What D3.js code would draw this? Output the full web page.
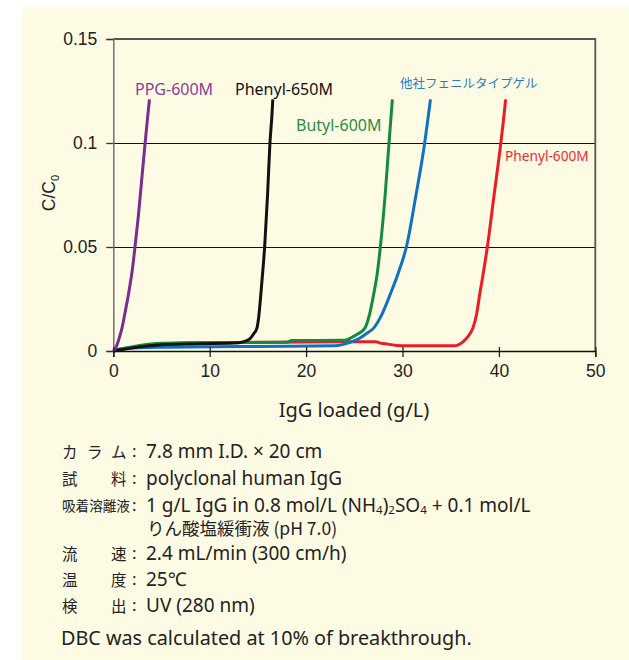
<!DOCTYPE html>
<html><head><meta charset="utf-8">
<script src="https://cdn.jsdelivr.net/npm/d3@7"></script>
<style>
html,body{margin:0;padding:0;background:#fff;}
svg{display:block;}
text{font-family:"Noto Sans","Noto Sans CJK JP",sans-serif;}
</style></head>
<body>
<svg id="c" width="629" height="660"></svg>
<script>
// ---- data ----
const xTicks = [0, 10, 20, 30, 40, 50];
const yTicks = [0, 0.05, 0.1, 0.15];
const yTickLabels = ["0", "0.05", "0.1", "0.15"];
const seriesNames = ["Phenyl-600M", "Butyl-600M", "他社フェニルタイプゲル", "Phenyl-650M", "PPG-600M"];
const seriesColors = ["#ec1c24", "#138a3e", "#0f71c4", "#111111", "#7b2c8f"];
const labelColors = ["#ec2a33", "#2a8c48", "#2a7bc6", "#111111", "#8a3c9c"];

const red_x  = [0, 2, 6, 8, 17, 24, 27.2, 27.7, 28.5, 29.4, 30, 35.3, 35.8, 36.3, 36.8, 37.3, 37.7, 38.0, 38.4, 38.8, 39.5, 40.2, 40.5, 40.7];
const red_y  = [0, 0.0015, 0.0035, 0.004, 0.0042, 0.0045, 0.0045, 0.0038, 0.0033, 0.0027, 0.0025, 0.0025, 0.003, 0.0045, 0.007, 0.011, 0.018, 0.027, 0.038, 0.05, 0.075, 0.1, 0.112, 0.121];
const green_x = [0, 2, 5, 10, 18, 18.5, 24, 24.5, 25.3, 26.1, 26.6, 27.0, 27.4, 27.7, 28.2, 28.6, 28.8, 28.95];
const green_y = [0, 0.002, 0.0037, 0.004, 0.0042, 0.005, 0.0052, 0.006, 0.008, 0.011, 0.018, 0.027, 0.038, 0.05, 0.075, 0.1, 0.112, 0.121];
const blue_x = [0, 1, 5, 15, 23, 24.5, 25.5, 26.3, 27.0, 27.9, 28.7, 29.6, 30.4, 31.4, 32.3, 32.65, 32.9];
const blue_y = [0, 0.0012, 0.0018, 0.0022, 0.0025, 0.004, 0.006, 0.0085, 0.011, 0.018, 0.027, 0.038, 0.05, 0.075, 0.1, 0.112, 0.121];
const black_x = [0, 2, 5, 9, 13.0, 13.7, 14.2, 14.6, 14.9, 15.1, 15.3, 15.5, 15.7, 16.0, 16.25, 16.45, 16.55];
const black_y = [0, 0.0015, 0.003, 0.0035, 0.004, 0.0047, 0.006, 0.0085, 0.011, 0.017, 0.027, 0.038, 0.05, 0.075, 0.1, 0.113, 0.121];
const purple_x = [0, 0.3, 0.6, 0.9, 1.2, 1.6, 2.0, 2.25, 2.6, 3.0, 3.3, 3.55, 3.75];
const purple_y = [0, 0.002, 0.006, 0.011, 0.018, 0.028, 0.04, 0.05, 0.065, 0.085, 0.1, 0.112, 0.121];

const seriesX = [red_x, green_x, blue_x, black_x, purple_x];
const seriesY = [red_y, green_y, blue_y, black_y, purple_y];

const xTitle = "IgG loaded (g/L)";
const notes = [
  {label: ["カ", "ラ", "ム"], value: "7.8 mm I.D. × 20 cm"},
  {label: ["試", "料"], value: "polyclonal human IgG"},
  {label: ["吸着溶離液"], value: null},
  {label: ["流", "速"], value: "2.4 mL/min (300 cm/h)"},
  {label: ["温", "度"], value: "25℃"},
  {label: ["検", "出"], value: "UV (280 nm)"}
];
const footnote = "DBC was calculated at 10% of breakthrough.";

// ---- chart ----
const svg = d3.select("#c");
svg.append("rect").attr("x", 22).attr("y", 7).attr("width", 607).attr("height", 653).attr("fill", "#fefbe4");

const L = 113.3, R = 595.3, T = 39, B = 351;
const x = d3.scaleLinear().domain([0, 50]).range([L, R]);
const y = d3.scaleLinear().domain([0, 0.15]).range([B, T]);

// gridlines
const grid = svg.append("g").attr("transform", `translate(${L},0)`)
  .call(d3.axisLeft(y).tickValues([0.05, 0.1]).tickSize(-(R - L)).tickFormat(""));
grid.select(".domain").remove();
grid.selectAll("line").attr("stroke", "#111").attr("stroke-width", 1.2);

// frame top & right
svg.append("path").attr("d", `M${L},${T}H${R}V${B}`).attr("fill", "none").attr("stroke", "#555").attr("stroke-width", 1.8);

// y axis
const ya = svg.append("g").attr("transform", `translate(${L},0)`)
  .call(d3.axisLeft(y).tickValues(yTicks).tickSize(7).tickPadding(9).tickFormat((d, i) => yTickLabels[i]));
ya.select(".domain").attr("stroke", "#7a7a7a").attr("stroke-width", 1.6);
ya.selectAll("line").attr("stroke", "#333").attr("stroke-width", 1.3);
ya.selectAll("text").attr("font-size", 17.5).attr("fill", "#222").style("font-family", "Liberation Sans");

// series
const line = d3.line().x(d => x(d[0])).y(d => y(d[1])).curve(d3.curveMonotoneX);
seriesX.forEach((xs, i) => {
  const pts = xs.map((v, j) => [v, seriesY[i][j]]);
  svg.append("path").datum(pts).attr("d", line).attr("fill", "none")
    .attr("stroke", seriesColors[i]).attr("stroke-width", 3).attr("stroke-linejoin", "round");
});

// x axis
const xa = svg.append("g").attr("transform", `translate(0,${B})`)
  .call(d3.axisBottom(x).tickValues(xTicks).tickSize(6).tickPadding(8));
xa.select(".domain").attr("stroke", "#111").attr("stroke-width", 1.4);
xa.selectAll("line").attr("stroke", "#222").attr("stroke-width", 1.3);
xa.selectAll("text").attr("font-size", 17.5).attr("fill", "#222").style("font-family", "Liberation Sans");
const xin = svg.append("g").attr("transform", `translate(0,${B})`)
  .call(d3.axisBottom(x).tickValues(xTicks).tickSize(-4).tickFormat(""));
xin.select(".domain").remove();
xin.selectAll("line").attr("stroke", "#222").attr("stroke-width", 1.3);

// axis titles
svg.append("text").attr("x", 354).attr("y", 417).attr("text-anchor", "middle")
  .attr("font-size", 20).attr("fill", "#222").text(xTitle);
const yt = svg.append("text").attr("transform", "translate(55,193) rotate(-90)").attr("text-anchor", "middle")
  .attr("font-size", 17.5).attr("fill", "#222").style("font-family", "Liberation Sans");
yt.append("tspan").text("C/C");
yt.append("tspan").attr("font-size", 11).attr("dy", 4).text("0");

// series labels
const labelPos = [[505, 160.5, 13.7], [296, 131, 16], [400, 88, 12.5], [235, 95, 16], [135, 95, 16]];
seriesNames.forEach((n, i) => {
  svg.append("text").attr("x", labelPos[i][0]).attr("y", labelPos[i][1])
    .attr("font-size", labelPos[i][2]).attr("fill", labelColors[i]).text(n);
});

// notes
const rowY = [458, 484.5, 511.5, 559.5, 585.5, 611.5];
const labelX3 = [62, 87, 111];
const labelX2 = [62, 111];
notes.forEach((n, i) => {
  const yy = rowY[i];
  if (n.label.length === 1) {
    svg.append("text").attr("x", 62).attr("y", yy - 1).attr("font-size", 13.6).attr("fill", "#222")
      .style("font-family", "Noto Sans CJK JP").text(n.label[0]);
  } else {
    const xs = n.label.length === 3 ? labelX3 : labelX2;
    n.label.forEach((c, j) => {
      svg.append("text").attr("x", xs[j]).attr("y", yy).attr("font-size", 15.5).attr("fill", "#222")
        .style("font-family", "Noto Sans CJK JP").text(c);
    });
  }
  svg.append("text").attr("x", 132).attr("y", yy - 1).attr("font-size", 17).attr("fill", "#222").text(":");
  if (n.value) {
    svg.append("text").attr("x", 146).attr("y", yy).attr("font-size", 19).attr("fill", "#222").text(n.value);
  }
});
// eluent line with subscripts
const t3 = svg.append("text").attr("x", 146).attr("y", 511.5).attr("font-size", 19).attr("fill", "#222");
t3.append("tspan").text("1 g/L IgG in 0.8 mol/L (NH");
t3.append("tspan").attr("font-size", 11.5).attr("dy", 2.5).text("4");
t3.append("tspan").attr("dy", -2.5).text(")");
t3.append("tspan").attr("font-size", 11.5).attr("dy", 2.5).text("2");
t3.append("tspan").attr("dy", -2.5).text("SO");
t3.append("tspan").attr("font-size", 11.5).attr("dy", 2.5).text("4");
t3.append("tspan").attr("dy", -2.5).text(" + 0.1 mol/L");
svg.append("text").attr("x", 147).attr("y", 535).attr("font-size", 17.5).attr("fill", "#222")
  .style("font-family", "Noto Sans CJK JP").text("りん酸塩緩衝液 (pH 7.0)");

svg.append("text").attr("x", 61).attr("y", 644.5).attr("font-size", 19.8).attr("fill", "#222").text(footnote);
</script>
</body></html>
